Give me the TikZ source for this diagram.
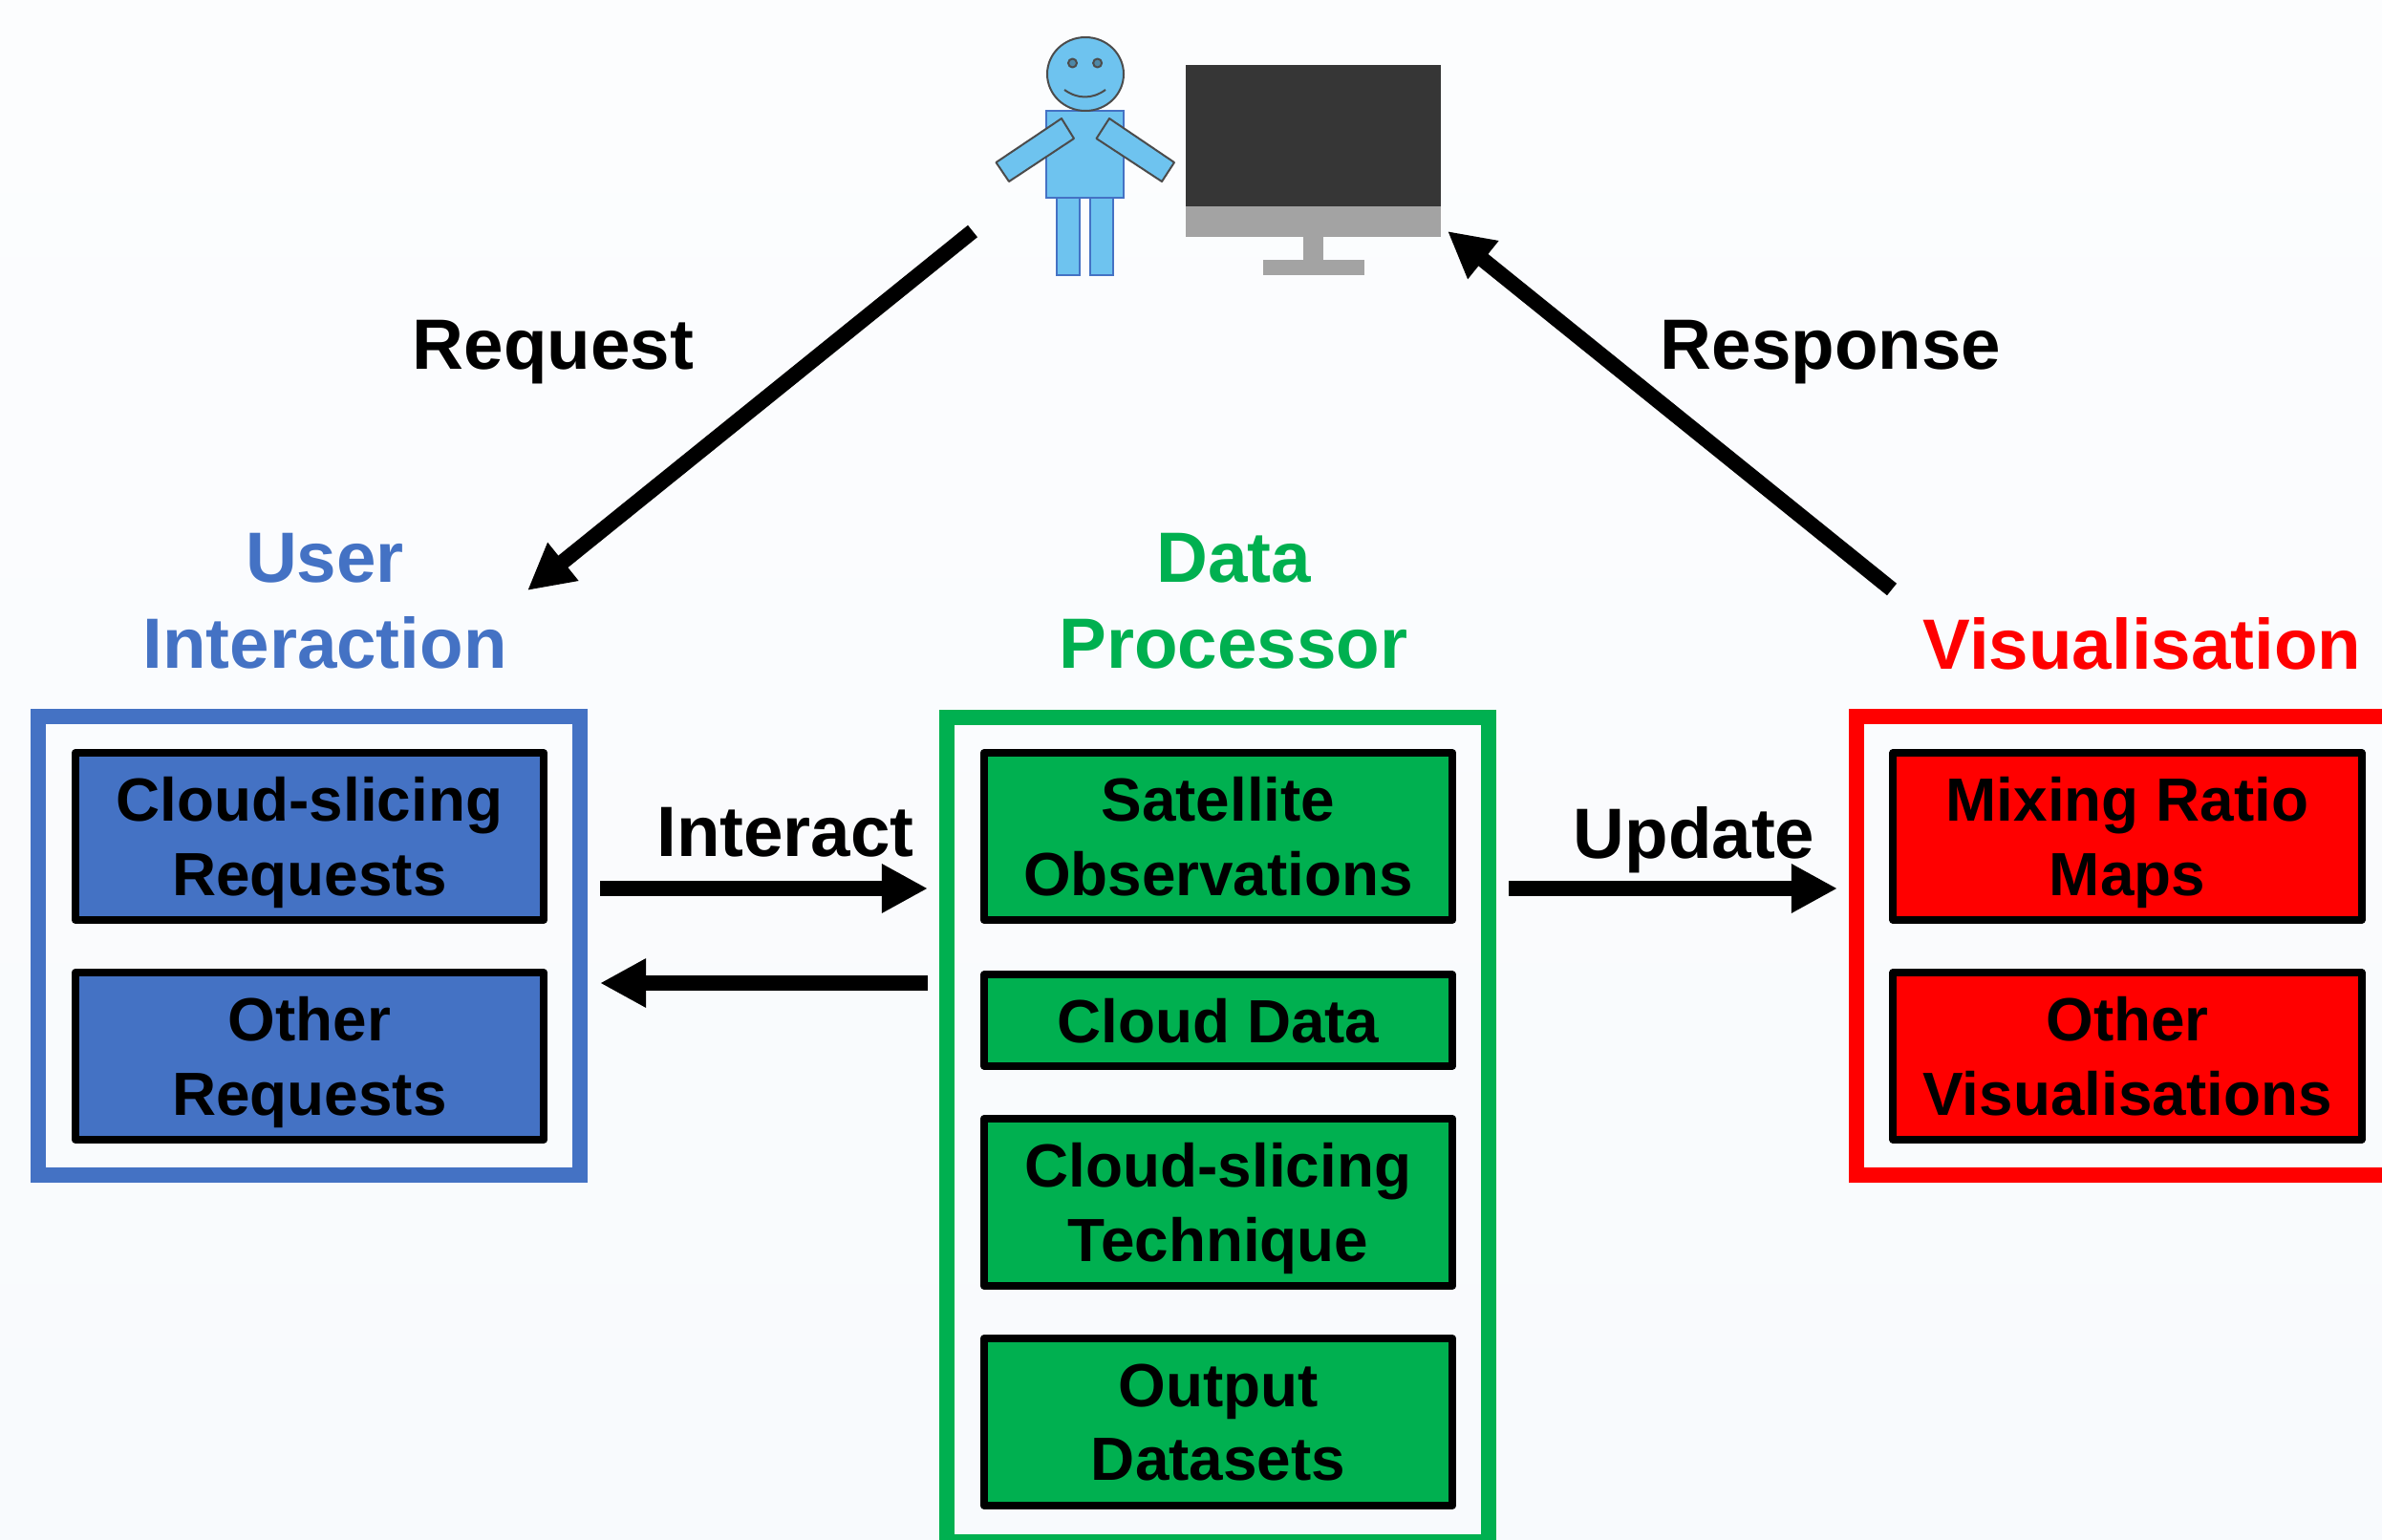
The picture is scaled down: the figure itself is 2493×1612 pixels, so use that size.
\documentclass[tikz,border=0pt]{standalone}
\usepackage{fontspec}
\setmainfont{Liberation Sans}
\usetikzlibrary{arrows.meta}
\definecolor{userblue}{HTML}{4472C4}
\definecolor{datagreen}{HTML}{00B050}
\definecolor{visred}{HTML}{FF0000}
\definecolor{skinblue}{HTML}{6EC3EF}
\definecolor{screengrey}{HTML}{363636}
\definecolor{standgrey}{HTML}{A3A3A3}
\definecolor{papertop}{HTML}{FCFDFE}
\definecolor{paperbottom}{HTML}{F8FAFD}
\tikzset{
	groupbox/.style={draw, line width=0.16cm, minimum width=5.67cm, outer sep=0pt},
	itembox/.style={draw=black, line width=0.08cm, line join=round, minimum width=4.9cm, align=center, outer sep=0pt,
		text depth=0pt, font=\bfseries\fontsize{18.15}{22}\selectfont},
	title/.style={align=center, text depth=0pt, font=\bfseries\fontsize{21.2}{25.7}\selectfont},
	flow/.style={line width=0.16cm, -{Triangle[length=0.48cm, width=0.48cm]}},
	body/.style={fill=skinblue, draw=userblue, line width=0.02cm},
	limb/.style={fill=skinblue, draw=black!70, line width=0.02cm, line join=round},
}
\begin{document}
\begin{tikzpicture}[x=0.01cm, y=-0.01cm]
	% Draw the background
	\useasboundingbox (0,0) rectangle (2493,1612);
	\clip (0,0) rectangle (2493,1612);
	\fill[top color=papertop, bottom color=paperbottom] (0,0) rectangle (2493,1612);

	% Draw the three group boxes
	\node[groupbox, draw=userblue, minimum height=4.795cm] (userbox) at (323.5,990) {};
	\node[groupbox, draw=datagreen, minimum height=8.63cm] (databox) at (1274.5,1182.5) {};
	\node[groupbox, draw=visred, minimum height=4.795cm] (visbox) at (2226.5,990) {};

	% Draw the items of the first group
	\node[itembox, fill=userblue, minimum height=1.75cm] (slicereq) at (324,875.5) {Cloud-slicing\\Requests};
	\node[itembox, fill=userblue, minimum height=1.75cm] (otherreq) at (324,1105.5) {Other\\Requests};

	% Draw the items of the second group
	\node[itembox, fill=datagreen, minimum height=1.75cm] (satobs) at (1275,875.5) {Satellite\\Observations};
	\node[itembox, fill=datagreen, minimum height=0.95cm] (clouddata) at (1275,1068) {Cloud Data};
	\node[itembox, fill=datagreen, minimum height=1.75cm] (slicetech) at (1275,1258.5) {Cloud-slicing\\Technique};
	\node[itembox, fill=datagreen, minimum height=1.75cm] (outdata) at (1275,1488.5) {Output\\Datasets};

	% Draw the items of the third group
	\node[itembox, fill=visred, minimum height=1.75cm] (mixmaps) at (2226.5,875.5) {Mixing Ratio\\Maps};
	\node[itembox, fill=visred, minimum height=1.75cm] (othervis) at (2226.5,1105.5) {Other\\Visualisations};

	% Draw the group titles
	\node[title, text=userblue] (usertitle) at (340,629) {User\\Interaction};
	\node[title, text=datagreen] (datatitle) at (1291,629) {Data\\Processor};
	\node[title, text=visred] (vistitle) at (2242,673) {Visualisation};

	% Draw the person
	\draw[body] (1106,207) rectangle (1130,288);
	\draw[body] (1141,207) rectangle (1165,288);
	\draw[body] (1095,116) rectangle (1176,207);
	\draw[limb] (1111,124) -- (1124,145) -- (1056,190) -- (1042.5,170) -- cycle;
	\draw[limb] (1161,124) -- (1147.5,145) -- (1216,190) -- (1229,170) -- cycle;
	\draw[limb] (1136,77.5) ellipse (40 and 38.5);
	\draw[limb, fill=skinblue!70!black] (1122.5,66) circle (4.5);
	\draw[limb, fill=skinblue!70!black] (1148.6,66) circle (4.5);
	\draw[limb] (1114,94) .. controls (1128,104) and (1143,104) .. (1157,94);

	% Draw the monitor
	\fill[screengrey] (1241,68) rectangle (1508,216);
	\fill[standgrey] (1241,216) rectangle (1508,248);
	\fill[standgrey] (1364,248) rectangle (1385,272);
	\fill[standgrey] (1322,272) rectangle (1428,288);

	% Draw the end points of the arrows
	\coordinate (reqstart) at (1018,242);
	\coordinate (reqend) at (552,618);
	\coordinate (respstart) at (1980,617);
	\coordinate (respend) at (1515,242);
	\coordinate (interstart) at (628,930);
	\coordinate (interend) at (971,930);
	\coordinate (backstart) at (971,1029);
	\coordinate (backend) at (628,1029);
	\coordinate (updstart) at (1579,930);
	\coordinate (updend) at (1923,930);

	% Draw the arrows
	\draw[flow] (reqstart) -- (reqend);
	\draw[flow] (respstart) -- (respend);
	\draw[flow] (interstart) -- (interend);
	\draw[flow] (backstart) -- (backend);
	\draw[flow] (updstart) -- (updend);

	% Draw the arrow labels
	\node[title] (reqlabel) at (579,361) {Request};
	\node[title] (resplabel) at (1916,361) {Response};
	\node[title] (interlabel) at (822,871) {Interact};
	\node[title] (updlabel) at (1773,871) {Update};
\end{tikzpicture}
\end{document}
